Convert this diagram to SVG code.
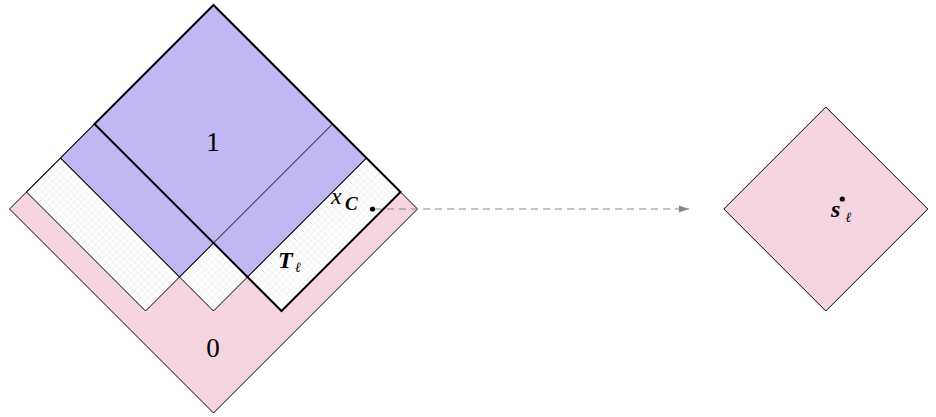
<svg xmlns="http://www.w3.org/2000/svg" width="936" height="417" viewBox="0 0 936 417">
<style>
.thin{fill:none;stroke:#000;stroke-width:1;stroke-linejoin:miter}
.thick{fill:none;stroke:#000;stroke-width:2;stroke-linejoin:miter}
.pink{fill:#f4d5e0}
.blue{fill:#c1b8f3}
.mesh{fill:url(#mesh)}
.num{font-family:"Liberation Serif",serif;font-size:27px;fill:#000;text-anchor:middle}
.big{font-family:"Liberation Serif",serif;font-size:24px;font-style:italic;fill:#000}
.bigb{font-family:"Liberation Serif",serif;font-size:24px;font-style:italic;font-weight:bold;fill:#000}
.subb{font-family:"Liberation Serif",serif;font-size:19px;font-style:italic;font-weight:bold;fill:#000}
.ell{font-family:"DejaVu Serif",serif;font-size:14px;font-style:italic;fill:#000}
</style>
<defs>
<pattern id="mesh" width="5" height="5" patternUnits="userSpaceOnUse" patternTransform="rotate(45)">
<rect width="5" height="5" fill="#fff"/>
<path d="M0 0.25H5M0.25 0V5" stroke="#e6e6e6" stroke-width="0.6"/>
</pattern>
<marker id="ah" markerWidth="10" markerHeight="8" refX="10" refY="4" orient="auto" markerUnits="userSpaceOnUse">
<path d="M0 0.5L10 4L0 7.5Z" fill="#888"/>
</marker>
</defs>
<g id="tile-grid">
<polygon class="pink" points="213.5,5 417.5,209 213.5,413 9.5,209"/>
<polygon class="blue" points="213.5,5 366.5,158 247.5,277 213.5,243 179.5,277 60.5,158"/>
<polygon class="mesh" points="60.5,158 179.5,277 145.5,311 26.5,192"/>
<polygon class="mesh" points="213.5,243 247.5,277 213.5,311 179.5,277"/>
<polygon class="mesh" points="366.5,158 400.5,192 281.5,311 247.5,277"/>
<polygon class="thin" points="213.5,5 417.5,209 213.5,413 9.5,209"/>
<polygon class="thin" points="213.5,5 366.5,158 247.5,277 213.5,243 179.5,277 60.5,158"/>
<polygon class="thin" points="60.5,158 179.5,277 145.5,311 26.5,192"/>
<polygon class="thin" points="213.5,243 247.5,277 213.5,311 179.5,277"/>
<polygon class="thin" points="366.5,158 400.5,192 281.5,311 247.5,277"/>
<line class="thin" x1="332.5" y1="124" x2="213.5" y2="243"/>
</g>
<g id="tile-T">
<polygon class="thick" points="213.5,5 400.5,192 281.5,311 94.5,124"/>
</g>
<g id="labels">
<text class="num" x="213" y="151">1</text>
<text class="num" x="213" y="357">0</text>
<text class="bigb" x="278" y="268">T</text>
<text class="ell" x="295" y="272">ℓ</text>
<text class="big" x="331" y="204">x</text>
<text class="subb" x="345" y="210">C</text>
<circle cx="372.5" cy="209" r="2.6" fill="#000"/>
</g>
<g id="connectors">
<line x1="375" y1="209" x2="689" y2="209" stroke="#888" stroke-width="1" stroke-dasharray="7 5" marker-end="url(#ah)"/>
</g>
<g id="node-s">
<polygon class="pink" points="825.8,107 927.8,209 825.8,311 723.8,209"/>
<polygon class="thin" points="825.8,107 927.8,209 825.8,311 723.8,209"/>
<circle cx="842.3" cy="199" r="2.6" fill="#000"/>
<text class="bigb" x="831" y="217">s</text>
<text class="ell" x="845.5" y="222">ℓ</text>
</g>
</svg>
